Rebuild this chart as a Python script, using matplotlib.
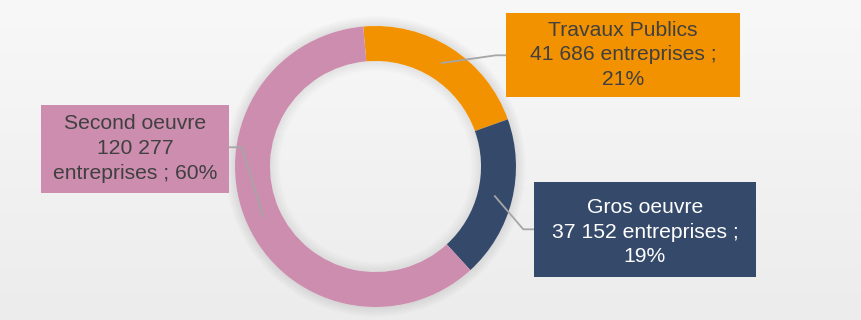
import numpy as np
import matplotlib.pyplot as plt
from matplotlib.patches import Rectangle, Wedge
from matplotlib.colors import LinearSegmentedColormap

categories = ['Travaux Publics', 'Gros oeuvre', 'Second oeuvre']
counts = [41686, 37152, 120277]
count_labels = ['41 686', '37 152', '120 277']
share_labels = ['21%', '19%', '60%']
colors = ['#F39200', '#354A6B', '#CC8DAE']
text_colors = ['#404040', '#FFFFFF', '#404040']

plt.rcParams['font.family'] = ['Liberation Sans', 'DejaVu Sans']

W, H = 862, 320
fig = plt.figure(figsize=(W / 100, H / 100), dpi=100)
ax = fig.add_axes([0, 0, 1, 1])

# soft grey background
bg = LinearSegmentedColormap.from_list('bg', ['#ececec', '#f8f8f8'])
grad = np.linspace(0, 1, 256).reshape(-1, 1)
ax.imshow(grad, extent=[0, W, 0, H], cmap=bg, origin='lower', aspect='auto', zorder=0)

cx, cy = 375.5, H - 166.5
R, ring = 140.5, 35.0

# shadow around the ring
for i in range(10):
    a = 0.09 * (1 - i / 10)
    ax.add_patch(Wedge((cx, cy), R + 1 + i, 0, 360, width=1.0, color='k', alpha=a, lw=0, zorder=1))
    ax.add_patch(Wedge((cx, cy), R - ring - i, 0, 360, width=1.0, color='k', alpha=a * 0.8, lw=0, zorder=1))

wedges, _ = ax.pie(counts, colors=colors, startangle=95, counterclock=False,
                   radius=R, center=(cx, cy), frame=True,
                   wedgeprops=dict(width=ring, linewidth=0, zorder=2))

# label boxes (left, top, right, bottom in pixels) and leader elbows
boxes = [(506, 13, 740, 97), (534, 182, 756, 277), (41, 105, 229, 193)]
text_y = [55, 232, 148.5]
elbows = [((496, 55.3), (506, 55.3)),
          ((523.3, 229.3), (534, 229.3)),
          ((241.7, 147.3), (229, 147.3))]
texts = [
    f'{categories[0]}\n{count_labels[0]} entreprises ;\n{share_labels[0]}',
    f'{categories[1]}\n{count_labels[1]} entreprises ;\n{share_labels[1]}',
    f'{categories[2]}\n{count_labels[2]}\nentreprises ; {share_labels[2]}',
]

r_mid = R - ring / 2
for w, box, ty, (p1, p2), txt, fc, tc in zip(wedges, boxes, text_y, elbows, texts, colors, text_colors):
    mid = np.deg2rad((w.theta1 + w.theta2) / 2)
    x0, y0 = cx + r_mid * np.cos(mid), cy + r_mid * np.sin(mid)
    ax.plot([x0, p1[0], p2[0]], [y0, H - p1[1], H - p2[1]], color='#a6a6a6', lw=1.3, zorder=3)
    l, t, r, b = box
    ax.add_patch(Rectangle((l, H - b), r - l, b - t, facecolor=fc, edgecolor='none', zorder=4))
    ax.text((l + r) / 2, H - ty, txt, ha='center', va='center', fontsize=15.2,
            color=tc, linespacing=1.37, zorder=5)

ax.set_xlim(0, W)
ax.set_ylim(0, H)
ax.axis('off')
fig.savefig('out.png', dpi=100)
